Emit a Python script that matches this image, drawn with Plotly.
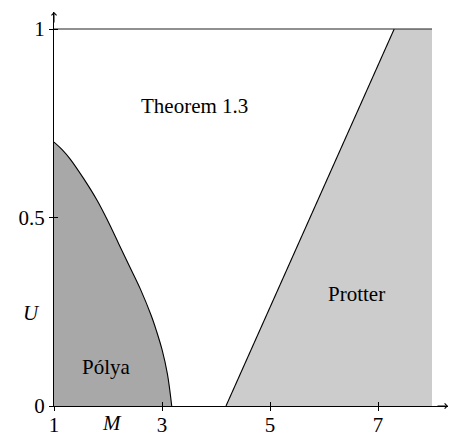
import plotly.graph_objects as go

# Data
polya_M = [1.0, 1.15, 1.3, 1.55, 1.8, 2.0, 2.2, 2.4, 2.6, 2.8, 2.9, 3.0, 3.1, 3.18]
polya_U = [0.70, 0.68, 0.655, 0.603, 0.545, 0.49, 0.43, 0.37, 0.31, 0.24, 0.198, 0.15, 0.085, 0.0]

protter_M = [4.185, 7.30, 8.0, 8.0]
protter_U = [0.0, 1.0, 1.0, 0.0]

top_M = [1.0, 8.0]
top_U = [1.0, 1.0]

x_ticks = [1, 3, 5, 7]
y_ticks = [0, 0.5, 1]
y_ticktext = ["0", "0.5", "1"]

labels = [("Theorem 1.3", 3.61, 0.795), ("Protter", 6.61, 0.297), ("Pólya", 1.97, 0.1035)]

FONT = "'Liberation Serif', 'DejaVu Serif', serif"
FS = 21
LIGHT = "#cccccc"
DARK = "#a8a8a8"

x_range = [1, 1 + 394 / 54]
y_range = [0, 394 / 377]

fig = go.Figure()

# Protter fill
fig.add_trace(go.Scatter(x=protter_M, y=protter_U, fill="toself", fillcolor=LIGHT,
                         mode="lines", line=dict(width=0), hoverinfo="skip", showlegend=False))
# Protter slanted edge
fig.add_trace(go.Scatter(x=protter_M[:2], y=protter_U[:2], mode="lines",
                         line=dict(color="black", width=1.1), showlegend=False))
# Polya region
fig.add_trace(go.Scatter(x=polya_M, y=polya_U, fill="tozeroy", fillcolor=DARK, mode="lines",
                         line=dict(color="black", width=1.1, shape="spline", smoothing=1.0),
                         showlegend=False))
# Top line U=1
fig.add_trace(go.Scatter(x=top_M, y=top_U, mode="lines",
                         line=dict(color="#222222", width=1.1), showlegend=False))
# dummy trace for overlay axes (inside ticks)
fig.add_trace(go.Scatter(x=top_M, y=top_U, mode="lines", opacity=0, line=dict(width=0),
                         xaxis="x2", yaxis="y2", showlegend=False, hoverinfo="skip"))

for text, xm, yu in labels:
    fig.add_annotation(x=xm, y=yu, xref="x", yref="y", text=text, showarrow=False,
                       font=dict(family=FONT, size=FS, color="black"),
                       xanchor="center", yanchor="middle")

# axis names
fig.add_annotation(x=2.07, y=0, xref="x", yref="y", text="<i>M</i>", showarrow=False,
                   font=dict(family=FONT, size=FS, color="black"),
                   xanchor="center", yanchor="top", yshift=-3)
fig.add_annotation(x=1, y=0.246, xref="x", yref="y", text="<i>U</i>", showarrow=False,
                   font=dict(family=FONT, size=FS, color="black"),
                   xanchor="right", yanchor="middle", xshift=-12)

# arrowheads
fig.add_annotation(x=x_range[1], y=0, xref="x", yref="y", ax=-12, ay=0, axref="pixel", ayref="pixel",
                   showarrow=True, arrowhead=4, arrowsize=1, arrowwidth=1, arrowcolor="black", text="")
fig.add_annotation(x=1, y=y_range[1], xref="x", yref="y", ax=0, ay=12, axref="pixel", ayref="pixel",
                   showarrow=True, arrowhead=4, arrowsize=1, arrowwidth=1, arrowcolor="black", text="")

axis_common = dict(showgrid=False, zeroline=False, tickcolor="black", tickwidth=1, ticklen=4,
                   automargin=False)
tick_font = dict(family=FONT, size=FS, color="black")

fig.update_layout(
    width=449, height=434,
    margin=dict(l=54, r=1, t=12, b=28),
    paper_bgcolor="white", plot_bgcolor="white",
    font=dict(family=FONT, size=FS, color="black"),
    xaxis=dict(range=x_range, tickvals=x_ticks, ticks="outside", showline=True,
               linecolor="black", linewidth=1, tickfont=tick_font, ticklabelstandoff=-4,
               **axis_common),
    yaxis=dict(range=y_range, tickvals=y_ticks, ticktext=y_ticktext, ticks="outside",
               showline=True, linecolor="black", linewidth=1, tickfont=tick_font, **axis_common),
    xaxis2=dict(overlaying="x", matches="x", anchor="y2", ticks="inside", tickvals=x_ticks,
                showticklabels=False, showline=False, **axis_common),
    yaxis2=dict(overlaying="y", matches="y", anchor="x2", ticks="inside", tickvals=y_ticks,
                showticklabels=False, showline=False, **axis_common),
    showlegend=False,
)

fig.write_html("out.html")
